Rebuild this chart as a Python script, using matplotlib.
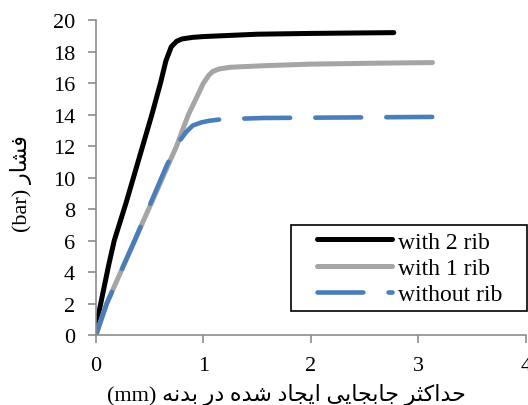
import matplotlib
matplotlib.use("Agg")
import matplotlib.pyplot as plt
from matplotlib.legend_handler import HandlerLine2D
from matplotlib.patches import Rectangle

# ---------------- data ----------------
x_two = [0.0, 0.05, 0.12, 0.17, 0.28, 0.40, 0.52, 0.60, 0.65, 0.70, 0.75, 0.80, 0.90, 1.00, 1.50, 2.00, 2.77]
y_two = [0.5, 2.2, 4.5, 6.0, 8.4, 11.2, 14.0, 16.0, 17.4, 18.3, 18.65, 18.8, 18.9, 18.95, 19.1, 19.15, 19.2]

x_one = [0.0, 0.10, 0.36, 0.75, 0.86, 1.00, 1.05, 1.09, 1.15, 1.25, 1.56, 2.00, 2.50, 3.13]
y_one = [0.0, 2.0, 6.0, 12.0, 14.0, 16.0, 16.5, 16.75, 16.9, 17.0, 17.1, 17.2, 17.25, 17.3]

x_none = [0.0, 0.10, 0.36, 0.66, 0.72, 0.78, 0.84, 0.90, 0.98, 1.05, 1.17, 1.56, 2.50, 3.16]
y_none = [0.0, 2.0, 6.0, 10.8, 11.6, 12.35, 12.9, 13.3, 13.5, 13.6, 13.7, 13.78, 13.82, 13.85]

labels = ["with 2 rib", "with 1 rib", "without rib"]
x_ticks = [0, 1, 2, 3, 4]
y_ticks = [0, 2, 4, 6, 8, 10, 12, 14, 16, 18, 20]
xlabel_fa = "حداکثر جابجایی ایجاد شده در بدنه"
ylabel_fa = "فشار"

# ---------------- minimal Persian shaping ----------------
FORMS = {
    '\u0627': ('\uFE8D', '\uFE8E', None, None),
    '\u0628': ('\uFE8F', '\uFE90', '\uFE91', '\uFE92'),
    '\u062B': ('\uFE99', '\uFE9A', '\uFE9B', '\uFE9C'),
    '\u062C': ('\uFE9D', '\uFE9E', '\uFE9F', '\uFEA0'),
    '\u062D': ('\uFEA1', '\uFEA2', '\uFEA3', '\uFEA4'),
    '\u062F': ('\uFEA9', '\uFEAA', None, None),
    '\u0631': ('\uFEAD', '\uFEAE', None, None),
    '\u0634': ('\uFEB5', '\uFEB6', '\uFEB7', '\uFEB8'),
    '\u0641': ('\uFED1', '\uFED2', '\uFED3', '\uFED4'),
    '\u0646': ('\uFEE5', '\uFEE6', '\uFEE7', '\uFEE8'),
    '\u0647': ('\uFEE9', '\uFEEA', '\uFEEB', '\uFEEC'),
    '\u06A9': ('\uFB8E', '\uFB8F', '\uFB90', '\uFB91'),
    '\u06CC': ('\uFBFC', '\uFBFD', '\uFBFE', '\uFBFF'),
}


def dual(c):
    return c in FORMS and FORMS[c][2] is not None


def shape(text):
    out = []
    for i, c in enumerate(text):
        if c not in FORMS:
            out.append(c)
            continue
        prev = text[i - 1] if i > 0 else ''
        nxt = text[i + 1] if i + 1 < len(text) else ''
        jp = dual(prev)
        jn = dual(c) and nxt in FORMS
        f = FORMS[c]
        if jp and jn:
            out.append(f[3])
        elif jp:
            out.append(f[1])
        elif jn:
            out.append(f[2])
        else:
            out.append(f[0])
    return ''.join(out)[::-1]


class OffsetLine(HandlerLine2D):
    """Legend line handle drawn with extra blank space on its left."""
    def __init__(self, offset, **kw):
        super().__init__(**kw)
        self.offset = offset

    def create_artists(self, legend, orig_handle, xdescent, ydescent,
                       width, height, fontsize, trans):
        return super().create_artists(legend, orig_handle,
                                      xdescent - self.offset, ydescent,
                                      width - self.offset, height,
                                      fontsize, trans)


# ---------------- figure ----------------
plt.rcParams['font.family'] = ['Liberation Serif', 'DejaVu Sans']
W, H = 5.28, 4.06
fig = plt.figure(figsize=(W, H), dpi=100)
ax = fig.add_axes([0.1818, 0.1724, 0.8144, 0.7758])

l1, = ax.plot(x_two, y_two, color='black', lw=3.6, solid_capstyle='round', label=labels[0])
l2, = ax.plot(x_one, y_one, color='#A5A5A5', lw=3.6, solid_capstyle='round', label=labels[1])
l3, = ax.plot(x_none, y_none, color='#4A7EBB', lw=3.3, dashes=(10, 5.5),
              dash_capstyle='round', label=labels[2])

ax.set_xlim(0, 4)
ax.set_ylim(0, 20)
ax.set_xticks(x_ticks)
ax.set_yticks(y_ticks)
for s in ['top', 'right']:
    ax.spines[s].set_visible(False)
for s in ['left', 'bottom']:
    ax.spines[s].set_color('#8C8C8C')
    ax.spines[s].set_linewidth(1.2)
ax.tick_params(axis='both', direction='out', length=6, width=1.2,
               color='#8C8C8C', labelsize=16, pad=9)

ax.set_xlabel('(mm) ' + shape(xlabel_fa), fontsize=16, labelpad=6)
ax.xaxis.label.set_x(0.443)
ax.set_ylabel('(bar) ' + shape(ylabel_fa), fontsize=16, labelpad=15)
ax.yaxis.label.set_y(0.483)

off = 14.0  # points of blank space before legend line handles
leg = ax.legend(loc='lower right', bbox_to_anchor=(0.958, 0.076), borderaxespad=0,
                fontsize=17, frameon=False,
                handlelength=4.0, handletextpad=0.25, labelspacing=0.2,
                borderpad=0.25,
                handler_map={l1: OffsetLine(off), l2: OffsetLine(off), l3: OffsetLine(off)})

# legend frame with wider right padding (as in the reference)
fig.canvas.draw()
bb = leg.get_window_extent()
extra_right = 19.0  # pixels
frame = Rectangle((bb.x0 / (W * 100), bb.y0 / (H * 100)),
                  (bb.width + extra_right) / (W * 100), bb.height / (H * 100),
                  transform=fig.transFigure, facecolor='white', edgecolor='black',
                  linewidth=1.2, zorder=4)
fig.add_artist(frame)
leg.set_zorder(5)
fig.add_artist(leg)

fig.savefig('out.png', dpi=100)
